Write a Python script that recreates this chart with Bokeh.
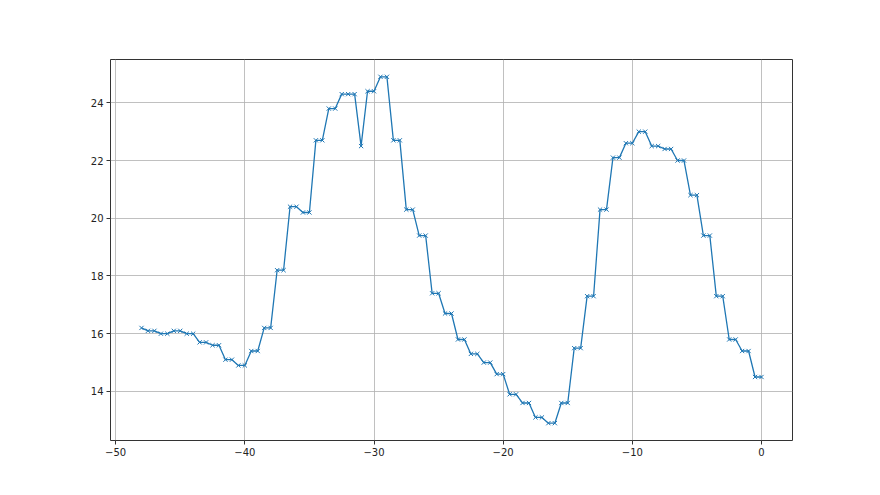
from bokeh.plotting import figure
from bokeh.embed import file_html
from bokeh.resources import INLINE
from bokeh.models import Range1d, FixedTicker

x_vals = [-48.0 + 0.5 * i for i in range(97)]
y_vals = [16.2, 16.1, 16.1, 16.0, 16.0, 16.1, 16.1, 16.0, 16.0, 15.7, 15.7, 15.6, 15.6,
          15.1, 15.1, 14.9, 14.9, 15.4, 15.4, 16.2, 16.2, 18.2, 18.2, 20.4, 20.4, 20.2, 20.2,
          22.7, 22.7, 23.8, 23.8, 24.3, 24.3, 24.3, 22.5, 24.4, 24.4, 24.9, 24.9, 22.7, 22.7,
          20.3, 20.3, 19.4, 19.4, 17.4, 17.4, 16.7, 16.7, 15.8, 15.8, 15.3, 15.3, 15.0, 15.0,
          14.6, 14.6, 13.9, 13.9, 13.6, 13.6, 13.1, 13.1, 12.9, 12.9, 13.6, 13.6, 15.5, 15.5,
          17.3, 17.3, 20.3, 20.3, 22.1, 22.1, 22.6, 22.6, 23.0, 23.0, 22.5, 22.5, 22.4, 22.4,
          22.0, 22.0, 20.8, 20.8, 19.4, 19.4, 17.3, 17.3, 15.8, 15.8, 15.4, 15.4, 14.5, 14.5]
x_ticks = [-50, -40, -30, -20, -10, 0]
y_ticks = [14, 16, 18, 20, 22, 24]

p = figure(width=872, height=487, output_backend="svg", toolbar_location=None,
           x_range=Range1d(-50.4, 2.4), y_range=Range1d(12.3, 25.5),
           min_border_left=110, min_border_right=80, min_border_top=59,
           min_border_bottom=47)
p.background_fill_color = "white"
p.border_fill_color = "white"
p.outline_line_color = "#333333"
p.outline_line_width = 1

p.line(x_vals, y_vals, line_color="#1f77b4", line_width=1.3)
p.scatter(x_vals, y_vals, marker="x", size=6, line_color="#1f77b4", line_width=1)

for ax in (p.xaxis, p.yaxis):
    ax.axis_line_color = None
    ax.major_tick_line_color = "#333333"
    ax.major_tick_out = 4
    ax.major_tick_in = 0
    ax.minor_tick_line_color = None
    ax.major_label_text_font = "DejaVu Sans"
    ax.major_label_text_font_size = "10px"
    ax.major_label_text_color = "#222222"
    ax.major_label_standoff = 3
p.xaxis.ticker = FixedTicker(ticks=x_ticks)
p.yaxis.ticker = FixedTicker(ticks=y_ticks)
p.xaxis.major_label_overrides = {t: ("\u2212" + str(-t) if t < 0 else str(t)) for t in x_ticks}

for g in (p.xgrid, p.ygrid):
    g.grid_line_color = "#b0b0b0"
    g.grid_line_width = 0.8
p.xgrid.ticker = FixedTicker(ticks=x_ticks)
p.ygrid.ticker = FixedTicker(ticks=y_ticks)

open("out.html", "w").write(file_html(p, INLINE))
